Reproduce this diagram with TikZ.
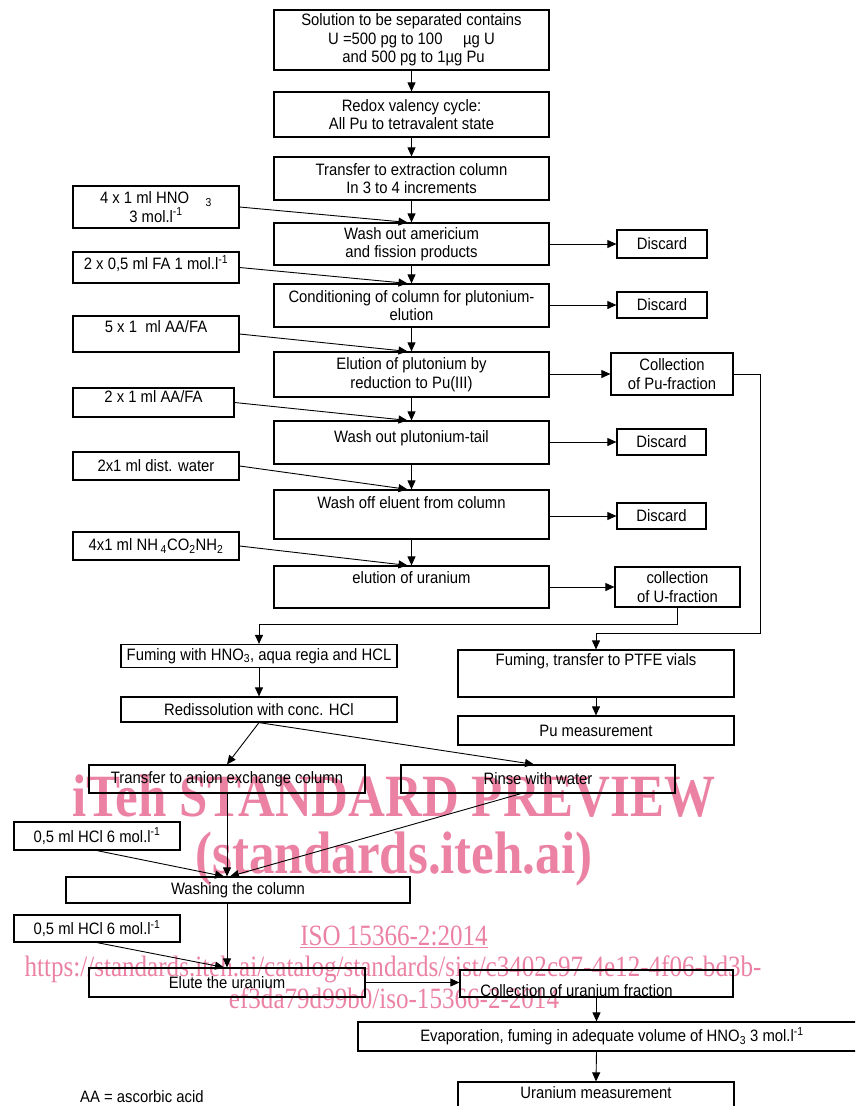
\documentclass[tikz,border=0pt]{standalone}
\usepackage{fontspec}
\setmainfont[FakeStretch=0.9]{Liberation Sans}
\newfontfamily\markfont[FakeStretch=0.85]{Liberation Serif}
\usetikzlibrary{arrows.meta}
\definecolor{markpink}{RGB}{236,130,163}
\newcommand{\stepWidth}{275pt}
\newcommand{\reagentWidth}{166pt}
\newcommand{\molar}{mol.l\textsuperscript{-1}}

\begin{document}
\begin{tikzpicture}[x=1pt, y=-1pt, font=\fontsize{16.5}{18.5}\selectfont]
  \tikzset{
    stepbox/.style={draw, line width=1.2pt, align=center, minimum width=\stepWidth, inner sep=2pt},
    reagent/.style={draw, line width=1.2pt, align=center, minimum width=\reagentWidth, inner sep=2pt},
    toplabel/.style={anchor=north, inner sep=0pt, align=center},
    flow/.style={->, line width=0.9pt},
    >={Triangle[length=9pt, width=8pt]},
    wmbig/.style={text=markpink, anchor=base, font=\markfont\bfseries\fontsize{60}{60}\selectfont},
    wmsmall/.style={text=markpink, anchor=base, font=\markfont\fontsize{29.5}{30}\selectfont}
  }
  \useasboundingbox (0,0) rectangle (855,1106);
  \clip (0,0) rectangle (855,1106);

  % watermark first, diagram drawn over it
  \node[wmbig] (wm-1) at (394,816) {iTeh STANDARD PREVIEW};
  \node[wmbig] (wm-2) at (394,873) {(standards.iteh.ai)};
  \node[wmsmall] (wm-3) at (394,945) {\underline{ISO 15366-2:2014}};
  \node[wmsmall] (wm-4) at (393,976) {https://standards.iteh.ai/catalog/standards/sist/c3402c97-4e12-4f06-bd3b-};
  \node[wmsmall] (wm-5) at (394,1008) {ef3da79d99b0/iso-15366-2-2014};

  % column steps
  \node[stepbox, minimum height=60pt] (sol) at (411.5,40) {Solution to be separated contains\\U =500 pg to 100 \quad µg U\\ \ and 500 pg to 1µg Pu};
  \node[stepbox, minimum height=45pt] (redox) at (411.5,114.5) {Redox valency cycle:\\All Pu to tetravalent state};
  \node[stepbox, minimum height=43pt] (transfer) at (411.5,178.5) {Transfer to extraction column\\In 3 to 4 increments};
  \node[stepbox, minimum height=42pt] (washam) at (411.5,244) {Wash out americium\\and fission products};
  \node[stepbox, minimum height=43pt] (cond) at (411.5,305.5) {Conditioning of column for plutonium-\\elution};
  \node[stepbox, minimum height=45pt] (elupu) at (411.5,374.5) {Elution of plutonium by\\reduction to Pu(III)};
  \node[stepbox, minimum height=43pt, label={[toplabel, name=washtail-t, yshift=-10pt]north:Wash out plutonium-tail}] (washtail) at (411.5,442.5) {};
  \node[stepbox, minimum height=49pt, label={[toplabel, name=washoff-t, yshift=-7pt]north:Wash off eluent from column}] (washoff) at (411.5,514.5) {};
  \node[stepbox, minimum height=42pt, label={[toplabel, name=eluu-t, yshift=-6pt]north:elution of uranium}] (eluu) at (411.5,587) {};

  % outlets
  \node[draw, line width=1.2pt, minimum width=90pt, minimum height=28pt] (disc-1) at (662,244) {Discard};
  \node[draw, line width=1.2pt, minimum width=90pt, minimum height=26pt] (disc-2) at (662,305) {Discard};
  \node[draw, line width=1.2pt, align=center, minimum width=122pt, minimum height=42pt, inner sep=1pt] (colpu) at (672,374) {Collection\\of Pu-fraction};
  \node[draw, line width=1.2pt, minimum width=89pt, minimum height=26pt] (disc-3) at (661.5,442) {Discard};
  \node[draw, line width=1.2pt, minimum width=89pt, minimum height=26pt] (disc-4) at (661.5,516) {Discard};
  \node[draw, line width=1.2pt, align=center, minimum width=125pt, minimum height=40pt, inner sep=1pt] (colu) at (677.5,587) {collection\\of U-fraction};

  % reagents
  \node[reagent, minimum height=42pt] (r-1) at (156,207) {4 x 1 ml HNO\quad\textsubscript{3}\\3 \molar};
  \node[reagent, minimum height=31pt, label={[toplabel, name=r-2-t, yshift=-4pt]north:2 x 0,5 ml FA 1 \molar}] (r-2) at (156,267.5) {};
  \node[reagent, minimum height=36pt, label={[toplabel, name=r-3-t, yshift=-5pt]north:5 x 1 \ ml AA/FA}] (r-3) at (156,334) {};
  \node[reagent, minimum width=161pt, minimum height=29pt, label={[toplabel, name=r-4-t, yshift=-3pt]north:2 x 1 ml AA/FA}] (r-4) at (153.5,402.5) {};
  \node[reagent, minimum height=28pt] (r-5) at (156,466) {2x1 ml dist. water};
  \node[reagent, minimum height=28pt] (r-6) at (156,546) {4x1 ml NH\,\textsubscript{4}CO\textsubscript{2}NH\textsubscript{2}};

  % lower part
  \node[stepbox, minimum width=276pt, minimum height=23pt] (fumhno) at (259,656) {Fuming with HNO\textsubscript{3}, aqua regia and HCL};
  \node[stepbox, minimum width=276pt, minimum height=47pt, label={[toplabel, name=fumpt-t, yshift=-4pt]north:Fuming, transfer to PTFE vials}] (fumpt) at (596,673.5) {};
  \node[stepbox, minimum width=276pt, minimum height=25pt] (redis) at (259,709.5) {Redissolution with conc. HCl};
  \node[stepbox, minimum width=276pt, minimum height=29pt] (pumeas) at (596,730.5) {Pu measurement};
  \node[stepbox, minimum width=276pt, minimum height=28pt] (trans) at (227,779) {Transfer to anion exchange column};
  \node[stepbox, minimum width=274pt, minimum height=28pt] (rinse) at (538,779) {Rinse with water};
  \node[reagent, minimum height=28pt] (r-7) at (97,836) {0,5 ml HCl 6 \molar};
  \node[stepbox, minimum width=344pt, minimum height=26pt] (washcol) at (238,890) {Washing the column};
  \node[reagent, minimum height=27pt] (r-8) at (97,928.5) {0,5 ml HCl 6 \molar};
  \node[stepbox, minimum width=276pt, minimum height=29pt] (elute) at (227,982.5) {Elute the uranium};
  \node[stepbox, minimum width=273pt, minimum height=27pt, label={[toplabel, name=colfr-t, yshift=-15pt, xshift=-20pt]north:Collection of uranium fraction}] (colfr) at (596.5,983.5) {};
  \node[stepbox, minimum width=508pt, minimum height=29pt] (evap) at (612,1036.5) {Evaporation, fuming in adequate volume of HNO\textsubscript{3} 3 \molar};
  \node[stepbox, minimum width=276pt, minimum height=36pt, label={[toplabel, name=umeas-t, yshift=-5pt]north:Uranium measurement}] (umeas) at (596,1100) {};
  \node[anchor=west, inner sep=0pt] (legend) at (80,1097) {AA = ascorbic acid};

  % main column
  \draw[flow] (sol.south) -- (redox.north);
  \draw[flow] (redox.south) -- (transfer.north);
  \draw[flow] (transfer.south) -- (washam.north);
  \draw[flow] (washam.south) -- (cond.north);
  \draw[flow] (cond.south) -- (elupu.north);
  \draw[flow] (elupu.south) -- (washtail.north);
  \draw[flow] (washtail.south) -- (washoff.north);
  \draw[flow] (washoff.south) -- (eluu.north);

  % reagents in
  \draw[flow] (r-1.east) -- ([xshift=-4pt]washam.north);
  \draw[flow] (r-2.east) -- ([xshift=-4pt]cond.north);
  \draw[flow] (r-3.east) -- ([xshift=-4pt]elupu.north);
  \draw[flow] (r-4.east) -- ([xshift=-4pt]washtail.north);
  \draw[flow] (r-5.east) -- ([xshift=-4pt]washoff.north);
  \draw[flow] (r-6.east) -- ([xshift=-4pt]eluu.north);

  % outlets
  \draw[flow] (washam.east |- disc-1.west) -- (disc-1.west);
  \draw[flow] (cond.east |- disc-2.west) -- (disc-2.west);
  \draw[flow] (elupu.east |- colpu.west) -- (colpu.west);
  \draw[flow] (washtail.east |- disc-3.west) -- (disc-3.west);
  \draw[flow] (washoff.east |- disc-4.west) -- (disc-4.west);
  \draw[flow] (eluu.east |- colu.west) -- (colu.west);

  % fractions
  \coordinate (pu-bend) at (760,633);
  \coordinate (u-bend) at (677.5,624);
  \draw[flow] (colpu.east) -| (pu-bend) -| (fumpt.north);
  \draw[flow] (colu.south) -- (u-bend) -| (fumhno.north);
  \draw[flow] (fumpt.south) -- (pumeas.north);
  \draw[flow] (fumhno.south) -- (redis.north);
  \draw[flow] (redis.south) -- (trans.north);
  \draw[flow] (redis.south) -- ([xshift=-4pt]rinse.north);
  \draw[flow] (trans.south) -- (trans.south |- washcol.north);
  \draw[flow] ([xshift=-17pt]rinse.south) -- ([xshift=3pt]trans.south |- washcol.north);
  \draw[flow] (r-7.south) -- ([xshift=-3pt]trans.south |- washcol.north);
  \draw[flow] (washcol.south -| elute.north) -- (elute.north);
  \draw[flow] (r-8.south) -- ([xshift=-3pt]elute.north);
  \draw[flow] (elute.east) -- (elute.east -| colfr.west);
  \draw[flow] (colfr.south) -- (colfr.south |- evap.north);
  \draw[flow] (colfr.south |- evap.south) -- (umeas.north);
\end{tikzpicture}
\end{document}
